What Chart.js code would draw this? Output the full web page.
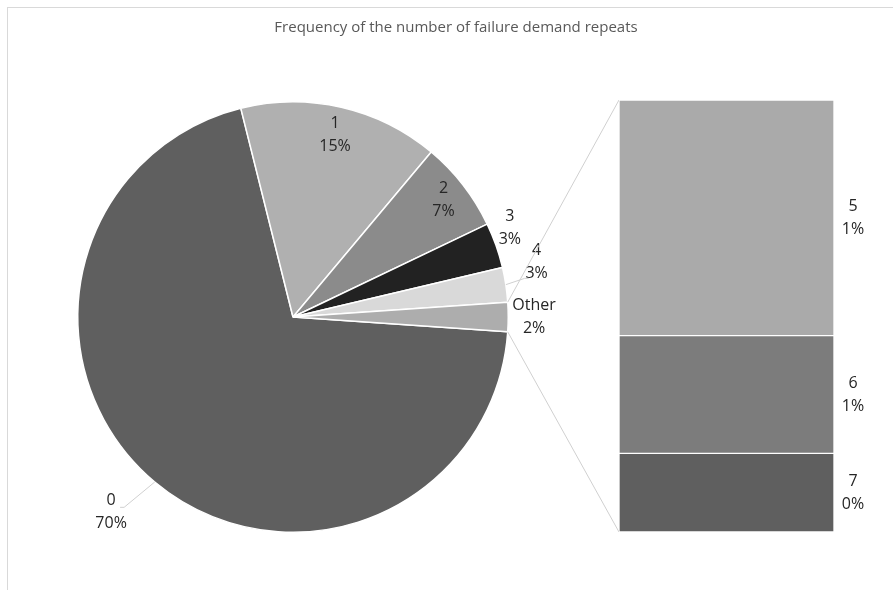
<!DOCTYPE html>
<html>
<head>
<meta charset="utf-8">
<title>Failure demand repeats</title>
<script src="https://cdn.jsdelivr.net/npm/chart.js@4.4.0/dist/chart.umd.min.js"></script>
<style>
body { margin: 0; background: #fff; }
#wrap { position: relative; width: 893px; height: 590px; }
#wrap canvas { position: absolute; left: 0; top: 0; }
</style>
</head>
<body>
<div id="wrap">
  <canvas id="pieChart" width="893" height="590"></canvas>
  <canvas id="barChart" width="893" height="590"></canvas>
</div>
<script>
const chartTitle = 'Frequency of the number of failure demand repeats';
const pieLabels = ['0', '1', '2', '3', '4', 'Other'];
const mainCounts = [700, 150, 68, 34, 26];
const barLabels = ['5', '6', '7'];
const otherCounts = [12, 6, 4];

const pieColors = ['#5f5f5f', '#b0b0b0', '#8b8b8b', '#222222', '#d9d9d9', '#adadad'];
const barColors = ['#aaaaaa', '#7c7c7c', '#5f5f5f'];
const FONT = "'Open Sans', sans-serif";
const TEXT = '#262626';

const otherTotal = otherCounts.reduce((a, b) => a + b, 0);
const pieValues = mainCounts.concat([otherTotal]);
const total = pieValues.reduce((a, b) => a + b, 0);
const pct = v => Math.round(v / total * 100) + '%';

// label placement around each slice: radius factor, angle nudge (deg), leader line end offset
const labelRadius = [1.24, 0.87, 0.885, 1.09, 1.16, 1.12];
const labelShift = [3, 0, 0, -3, -4, 0];
const leaders = { 0: [13, -5], 4: [-12, 16] };

function drawTwoLines(ctx, x, y, a, b) {
    ctx.fillText(a, x, y - 11.5);
    ctx.fillText(b, x, y + 11.5);
}

const frameAndTitle = {
    id: 'frameAndTitle',
    beforeDraw(chart) {
        const ctx = chart.ctx;
        ctx.save();
        ctx.strokeStyle = '#d9d9d9';
        ctx.lineWidth = 1;
        ctx.strokeRect(7.5, 7.5, 900, 600);
        ctx.fillStyle = '#595959';
        ctx.font = '15px ' + FONT;
        ctx.textAlign = 'center';
        ctx.textBaseline = 'middle';
        ctx.fillText(chartTitle, 456, 28);
        ctx.restore();
    }
};

const pieLabelPlugin = {
    id: 'pieLabels',
    afterDatasetsDraw(chart) {
        const ctx = chart.ctx;
        const arcs = chart.getDatasetMeta(0).data;
        ctx.save();
        ctx.font = '16px ' + FONT;
        ctx.textAlign = 'center';
        ctx.textBaseline = 'middle';
        arcs.forEach((arc, i) => {
            const p = arc.getProps(['x', 'y', 'startAngle', 'endAngle', 'outerRadius'], true);
            const mid = (p.startAngle + p.endAngle) / 2;
            const ang = mid + labelShift[i] * Math.PI / 180;
            const r = p.outerRadius * labelRadius[i];
            const lx = p.x + Math.cos(ang) * r;
            const ly = p.y + Math.sin(ang) * r;
            if (leaders[i]) {
                const ex = lx + leaders[i][0], ey = ly + leaders[i][1];
                ctx.strokeStyle = '#d0d0d0';
                ctx.lineWidth = 1;
                ctx.beginPath();
                ctx.moveTo(p.x + Math.cos(mid) * p.outerRadius, p.y + Math.sin(mid) * p.outerRadius);
                ctx.lineTo(ex, ey);
                ctx.lineTo(ex + (leaders[i][0] > 0 ? -4 : 4), ey);
                ctx.stroke();
            }
            ctx.fillStyle = TEXT;
            drawTwoLines(ctx, lx, ly, pieLabels[i], pct(pieValues[i]));
        });
        ctx.restore();
    }
};

const pieChart = new Chart(document.getElementById('pieChart'), {
    type: 'pie',
    data: {
        labels: pieLabels,
        datasets: [{
            data: pieValues,
            backgroundColor: pieColors,
            borderColor: '#ffffff',
            borderWidth: 1.5
        }]
    },
    options: {
        responsive: false,
        animation: false,
        devicePixelRatio: 1,
        // "Other" slice sits centred on the right-hand horizontal
        rotation: 90 + otherTotal / total * 180,
        layout: { padding: { left: 77, top: 101, right: 384, bottom: 57 } },
        plugins: { legend: { display: false }, tooltip: { enabled: false } }
    },
    plugins: [frameAndTitle, pieLabelPlugin]
});

const connectorPlugin = {
    id: 'connectors',
    beforeDatasetsDraw(chart) {
        const ctx = chart.ctx;
        const other = pieChart.getDatasetMeta(0).data[pieLabels.length - 1];
        const p = other.getProps(['x', 'y', 'startAngle', 'endAngle', 'outerRadius'], true);
        const metas = chart.getSortedVisibleDatasetMetas();
        const topBar = metas[metas.length - 1].data[0];
        const bottomBar = metas[0].data[0];
        const left = topBar.x - topBar.width / 2;
        ctx.save();
        ctx.strokeStyle = '#d0d0d0';
        ctx.lineWidth = 1;
        ctx.beginPath();
        ctx.moveTo(p.x + Math.cos(p.startAngle) * p.outerRadius, p.y + Math.sin(p.startAngle) * p.outerRadius);
        ctx.lineTo(left, topBar.y);
        ctx.moveTo(p.x + Math.cos(p.endAngle) * p.outerRadius, p.y + Math.sin(p.endAngle) * p.outerRadius);
        ctx.lineTo(left, bottomBar.base);
        ctx.stroke();
        ctx.restore();
    }
};

const barLabelPlugin = {
    id: 'barLabels',
    afterDatasetsDraw(chart) {
        const ctx = chart.ctx;
        ctx.save();
        ctx.font = '16px ' + FONT;
        ctx.fillStyle = TEXT;
        ctx.textAlign = 'center';
        ctx.textBaseline = 'middle';
        chart.data.datasets.forEach((ds, i) => {
            const bar = chart.getDatasetMeta(i).data[0];
            const x = bar.x + bar.width / 2 + 19;
            const y = (bar.y + bar.base) / 2;
            drawTwoLines(ctx, x, y, ds.label, pct(ds.data[0]));
        });
        ctx.restore();
    }
};

// stacked from the bottom up: 7, 6, 5
const barDatasets = barLabels.map((l, i) => ({
    label: l,
    data: [otherCounts[i]],
    backgroundColor: barColors[i],
    borderColor: '#ffffff',
    borderWidth: 1,
    borderSkipped: false,
    barPercentage: 1,
    categoryPercentage: 1
})).reverse();

const barChart = new Chart(document.getElementById('barChart'), {
    type: 'bar',
    data: { labels: ['Other'], datasets: barDatasets },
    options: {
        responsive: false,
        animation: false,
        devicePixelRatio: 1,
        layout: { padding: { left: 619, right: 59, top: 100, bottom: 58 } },
        scales: {
            x: { display: false, stacked: true },
            y: { display: false, stacked: true, min: 0, max: otherTotal }
        },
        plugins: { legend: { display: false }, tooltip: { enabled: false } }
    },
    plugins: [connectorPlugin, barLabelPlugin]
});
</script>
</body>
</html>
